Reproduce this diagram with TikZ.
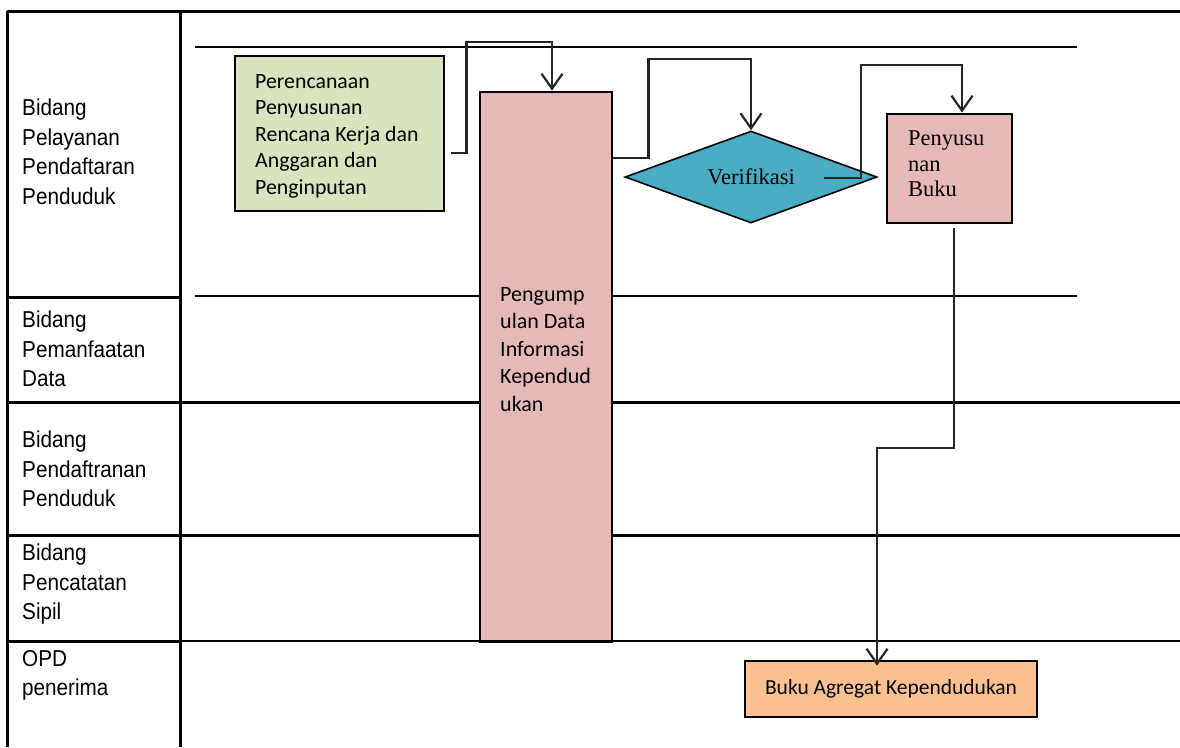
\documentclass[tikz,border=0pt]{standalone}
\usepackage{fontspec}
\setmainfont{Liberation Sans}
\newfontfamily\arialn{Liberation Sans}[FakeStretch=0.9]
\newfontfamily\carl{Carlito}
\newfontfamily\camb{Liberation Serif}
\usetikzlibrary{shapes.geometric,arrows.meta,calc}
\definecolor{gfill}{HTML}{D7E4BD}
\definecolor{pfill}{HTML}{E6B9B8}
\definecolor{bfill}{HTML}{4BACC6}
\definecolor{ofill}{HTML}{FAC090}
\begin{document}
\begin{tikzpicture}[x=1pt,y=-1pt,
  thick lane/.style={line width=3pt,black},
  mid lane/.style={line width=2.3pt,black},
  thin lane/.style={line width=1.5pt,black},
  lab/.style={anchor=north west,inner sep=0pt,align=left,font=\arialn\fontsize{23}{29.5}\selectfont},
  boxnode/.style={draw=black,line width=2.8pt,rectangle,inner sep=0pt},
  ctext/.style={anchor=north west,inner sep=0pt,align=left,font=\carl\fontsize{21.8}{26.5}\selectfont},
  conn/.style={draw=black!85,line width=2.2pt,-{Straight Barb[length=15pt,width=21pt]}}
]
\useasboundingbox (0,0) rectangle (1180,747);
% table frame
\draw[thick lane] (7,11) -- (1180,11);
\draw[thick lane] (7,11) -- (7,747);
\draw[thick lane] (180,11) -- (180,747);
\draw[thick lane] (7,297) -- (180,297);
\draw[thick lane] (7,402) -- (1180,402);
\draw[thick lane] (7,535) -- (1180,535);
\draw[thick lane] (7,641) -- (180,641);
\draw[thin lane] (180,641) -- (1180,641);
\draw[mid lane] (195,47) -- (1077,47);
\draw[thin lane] (195,296) -- (1077,296);
% lane labels
\node[lab] (l1) at (22,99) {Bidang\\Pelayanan\\Pendaftaran\\Penduduk};
\node[lab] (l2) at (22,311) {Bidang\\Pemanfaatan\\Data};
\node[lab] (l3) at (22,431) {Bidang\\Pendaftranan\\Penduduk};
\node[lab] (l4) at (22,544) {Bidang\\Pencatatan\\Sipil};
\node[lab] (l5) at (22,650) {OPD\\penerima};
% process nodes
\node[boxnode,fill=gfill,minimum width=209pt,minimum height=155pt] (g) at (339.5,133.5) {};
\node[ctext] (gt) at (255,74) {Perencanaan\\Penyusunan\\Rencana Kerja dan\\Anggaran dan\\Penginputan};
\node[boxnode,fill=pfill,minimum width=132pt,minimum height=549.5pt] (pk) at (546,366.75) {};
\node[ctext,font=\carl\fontsize{22}{27.5}\selectfont] (pkt) at (500,287) {Pengump\\ulan Data\\Informasi\\Kependud\\ukan};
\node[diamond,aspect=2.74,draw=black,line width=1.6pt,fill=bfill,minimum width=252pt,minimum height=92pt,inner sep=0pt,font=\camb\fontsize{22.5}{25}\selectfont] (dv) at (751,177) {Verifikasi};
\node[boxnode,fill=pfill,minimum width=125pt,minimum height=109pt] (pb) at (949.5,168.5) {};
\node[anchor=north west,inner sep=0pt,align=left,font=\camb\fontsize{22.5}{25.5}\selectfont] (pbt) at (908,131) {Penyusu\\nan\\Buku};
\node[boxnode,fill=ofill,minimum width=292pt,minimum height=56pt,font=\carl\fontsize{21.5}{24}\selectfont] (ob) at (891,689) {Buku Agregat Kependudukan};
% connectors
\draw[conn] ($(g.east)+(6,19.5)$) -- ++(15,0) |- ($(pk.north)+(6,-49)$) -- ($(pk.north)+(6,0)$);
\draw[conn] ($(pk.north east)+(0,67)$) -- ++(35,0) |- ($(dv.north)+(0,-71)$) -- (dv.north);
\draw[conn] ($(dv.center)+(73,1)$) -- ++(37,0) |- ($(pb.north)+(12.5,-48)$) -- ($(pb.north)+(12.5,0)$);
\draw[conn] ($(pb.south)+(4.5,4)$) |- ($(ob.north)+(-14,-212)$) -- ($(ob.north)+(-14,6)$);
\end{tikzpicture}
\end{document}
